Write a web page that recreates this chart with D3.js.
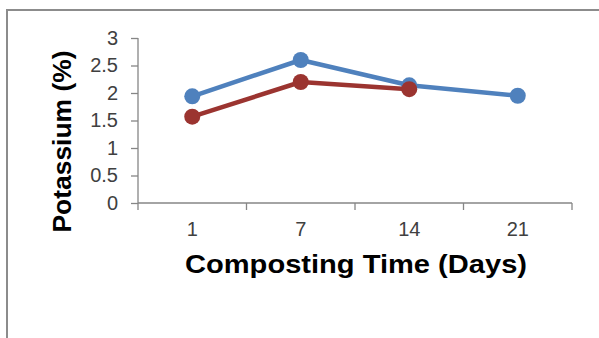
<!DOCTYPE html>
<html>
<head>
<meta charset="utf-8">
<script src="https://cdn.jsdelivr.net/npm/d3@7"></script>
<style>
  html, body { margin: 0; padding: 0; background: #fff; }
  svg { display: block; }
  text { font-family: "Liberation Sans", Arial, sans-serif; }
</style>
</head>
<body>
<svg id="chart" width="599" height="338"></svg>
<script>
// Composting days on the x axis
const days = ["1", "7", "14", "21"];
// Potassium content (%) for the two treatments
const seriesBlue = [1.94, 2.6, 2.14, 1.95];
const seriesRed = [1.57, 2.2, 2.07, null];
// Y axis tick values
const yTicks = [0, 0.5, 1, 1.5, 2, 2.5, 3];

const svg = d3.select("#chart");
const plotLeft = 138, plotRight = 572, plotTop = 38, plotBottom = 203;

// outer frame
svg.append("path")
  .attr("d", "M7,338V10H599")
  .attr("fill", "none")
  .attr("stroke", "#8c8c8c")
  .attr("stroke-width", 2);

const x = d3.scaleBand().domain(days).range([plotLeft, plotRight]);
const y = d3.scaleLinear().domain([0, 3]).range([plotBottom, plotTop]);

// y axis
const yAxis = svg.append("g")
  .attr("transform", `translate(${plotLeft},0)`)
  .call(d3.axisLeft(y).tickValues(yTicks).tickSize(7).tickPadding(13)
    .tickFormat(d => String(d)));
yAxis.select(".domain").attr("stroke", "#868686").attr("stroke-width", 1.3).attr("d", `M0,${plotTop}V${plotBottom}`);
yAxis.selectAll(".tick line").attr("stroke", "#868686").attr("stroke-width", 1.3);
yAxis.selectAll(".tick text").attr("font-size", 20).attr("fill", "#404040")
  .attr("font-family", "Liberation Sans, Arial, sans-serif");

// x axis: ticks sit on category boundaries
const xAxisG = svg.append("g").attr("transform", `translate(0,${plotBottom})`);
xAxisG.append("line").attr("x1", plotLeft).attr("x2", plotRight)
  .attr("stroke", "#868686").attr("stroke-width", 1.3);
const bounds = days.map(d => x(d)).concat([plotRight]);
xAxisG.selectAll(".bt").data(bounds).join("line")
  .attr("x1", d => d).attr("x2", d => d).attr("y1", 0).attr("y2", 7)
  .attr("stroke", "#868686").attr("stroke-width", 1.3);
xAxisG.selectAll(".lbl").data(days).join("text")
  .attr("x", d => x(d) + x.bandwidth() / 2)
  .attr("y", 33)
  .attr("text-anchor", "middle")
  .attr("font-size", 20)
  .attr("fill", "#404040")
  .text(d => d);

// axis titles
svg.append("text")
  .attr("x", 356).attr("y", 273)
  .attr("text-anchor", "middle")
  .attr("font-size", 25).attr("font-weight", "bold")
  .attr("fill", "#000")
  .attr("textLength", 342).attr("lengthAdjust", "spacingAndGlyphs")
  .text("Composting Time (Days)");

svg.append("text")
  .attr("transform", "translate(71,141.5) rotate(-90)")
  .attr("text-anchor", "middle")
  .attr("font-size", 25).attr("font-weight", "bold")
  .attr("fill", "#000")
  .attr("textLength", 182).attr("lengthAdjust", "spacingAndGlyphs")
  .text("Potassium (%)");

// series
const cx = d => x(d) + x.bandwidth() / 2;
function drawSeries(values, color) {
  const pts = days.map((d, i) => ({ d, v: values[i] })).filter(p => p.v != null);
  svg.append("path")
    .datum(pts)
    .attr("fill", "none")
    .attr("stroke", color)
    .attr("stroke-width", 4.5)
    .attr("stroke-linejoin", "round")
    .attr("d", d3.line().x(p => cx(p.d)).y(p => y(p.v)));
  svg.selectAll(null).data(pts).join("circle")
    .attr("cx", p => cx(p.d)).attr("cy", p => y(p.v))
    .attr("r", 8)
    .attr("fill", color);
}
drawSeries(seriesBlue, "#4f81bd");
drawSeries(seriesRed, "#9b3430");
</script>
</body>
</html>
